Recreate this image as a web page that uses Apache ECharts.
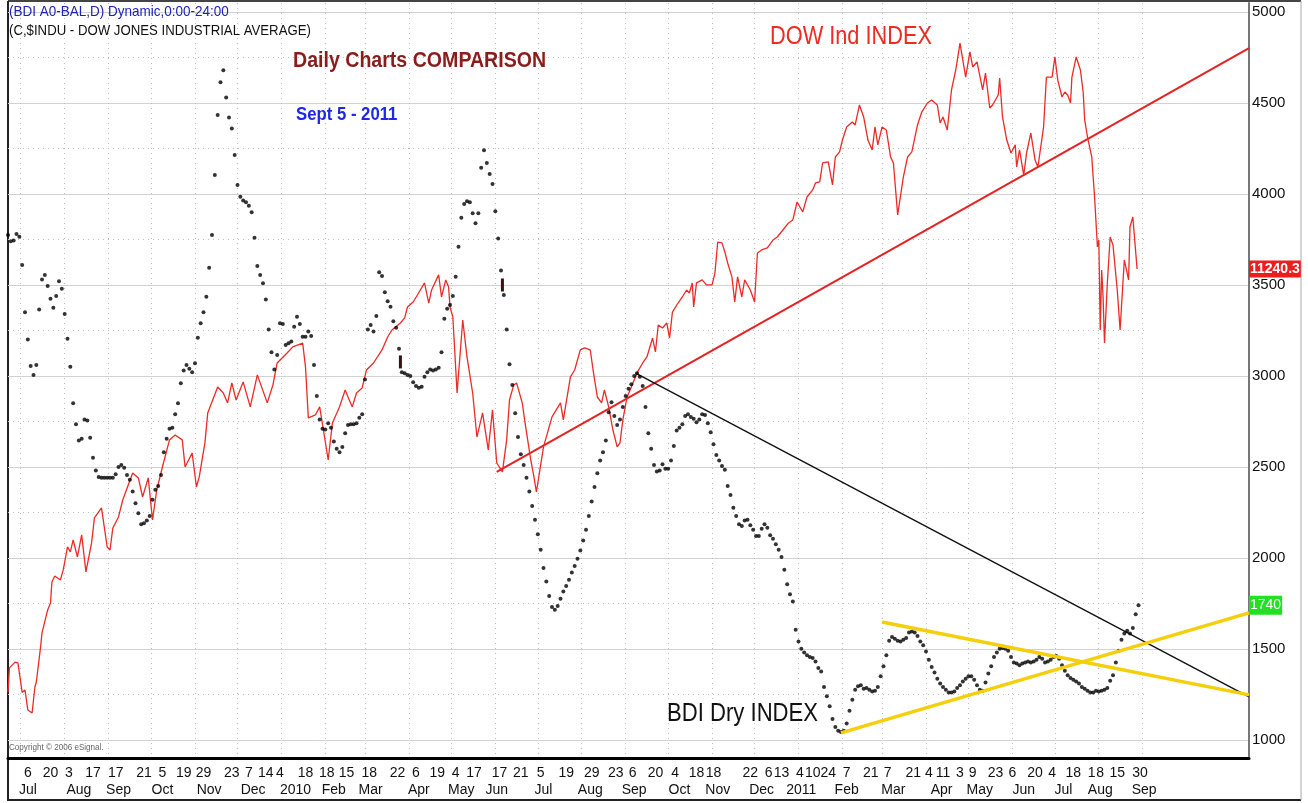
<!DOCTYPE html>
<html>
<head>
<meta charset="utf-8">
<title>BDI vs DOW - Daily Charts Comparison</title>
<script src="https://cdn.jsdelivr.net/npm/echarts@6/dist/echarts.min.js"></script>
<style>
html, body { margin: 0; padding: 0; background: #fff; }
#chart { width: 1308px; height: 803px; }
</style>
</head>
<body>
<div id="chart"></div>
<script>
var font = '"Liberation Sans", Arial, sans-serif';

// x range of the plot, and where the grid dots stop
var xMin = '2009-06-22', xMax = '2011-11-15', dotsEnd = '2011-09-02';

// bottom axis, first row (day numbers) and second row (months)
var dayTickDates = ['2009-07-06', '2009-07-22', '2009-08-04', '2009-08-21', '2009-09-06', '2009-09-26', '2009-10-09',
    '2009-10-24', '2009-11-07', '2009-11-27', '2009-12-09', '2009-12-21', '2009-12-31', '2010-01-18', '2010-02-02',
    '2010-02-16', '2010-03-04', '2010-03-24', '2010-04-06', '2010-04-21', '2010-05-04', '2010-05-17', '2010-06-04',
    '2010-06-19', '2010-07-03', '2010-07-21', '2010-08-08', '2010-08-25', '2010-09-06', '2010-09-22', '2010-10-06',
    '2010-10-21', '2010-11-02', '2010-11-28', '2010-12-11', '2010-12-20', '2011-01-02', '2011-01-11', '2011-01-22',
    '2011-02-04', '2011-02-21', '2011-03-05', '2011-03-23', '2011-04-03', '2011-04-13', '2011-04-25', '2011-05-04',
    '2011-05-20', '2011-06-01', '2011-06-17', '2011-06-29', '2011-07-14', '2011-07-27', '2011-08-02', '2011-08-14',
    '2011-08-30'];
var dayTickText = ['6', '20', '3', '17', '17', '21', '5', '19', '29', '23', '7', '14', '4', '18', '18', '15', '18', '22',
    '6', '19', '4', '17', '17', '21', '5', '19', '29', '23', '6', '20', '4', '18', '18', '22', '6', '13', '4', '10', '24',
    '7', '21', '7', '21', '4', '11', '3', '9', '23', '6', '20', '4', '18', '1', '8', '15', '30'];
var monthTickDates = ['2009-07-06', '2009-08-11', '2009-09-08', '2009-10-09', '2009-11-11', '2009-12-12', '2010-01-11',
    '2010-02-07', '2010-03-05', '2010-04-08', '2010-05-08', '2010-06-02', '2010-07-05', '2010-08-07', '2010-09-07',
    '2010-10-09', '2010-11-05', '2010-12-06', '2011-01-03', '2011-02-04', '2011-03-09', '2011-04-12', '2011-05-09',
    '2011-06-09', '2011-07-07', '2011-08-02', '2011-09-02'];
var monthTickText = ['Jul', 'Aug', 'Sep', 'Oct', 'Nov', 'Dec', '2010', 'Feb', 'Mar', 'Apr', 'May', 'Jun', 'Jul', 'Aug',
    'Sep', 'Oct', 'Nov', 'Dec', '2011', 'Feb', 'Mar', 'Apr', 'May', 'Jun', 'Jul', 'Aug', 'Sep'];
var monthStarts = ['2009-07-01', '2009-08-01', '2009-09-01', '2009-10-01', '2009-11-01', '2009-12-01', '2010-01-01',
    '2010-02-01', '2010-03-01', '2010-04-01', '2010-05-01', '2010-06-01', '2010-07-01', '2010-08-01', '2010-09-01',
    '2010-10-01', '2010-11-01', '2010-12-01', '2011-01-01', '2011-02-01', '2011-03-01', '2011-04-01', '2011-05-01',
    '2011-06-01', '2011-07-01', '2011-08-01', '2011-09-01'];

// right axis (BDI scale)
var bdiLevels = [1000, 1500, 2000, 2500, 3000, 3500, 4000, 4500, 5000];
var bdiHalfLevels = [1250, 1750, 2250, 2750, 3250, 3750, 4250, 4750];

// DOW Jones Industrial Average
var dowDates = ['2009-06-22', '2009-06-23', '2009-06-27', '2009-06-29', '2009-07-02', '2009-07-04', '2009-07-06',
    '2009-07-09', '2009-07-11', '2009-07-12', '2009-07-15', '2009-07-16', '2009-07-20', '2009-07-22', '2009-07-23',
    '2009-07-25', '2009-07-29', '2009-07-31', '2009-08-03', '2009-08-05', '2009-08-07', '2009-08-10', '2009-08-13',
    '2009-08-16', '2009-08-20', '2009-08-22', '2009-08-27', '2009-08-31', '2009-09-02', '2009-09-04', '2009-09-08',
    '2009-09-11', '2009-09-18', '2009-09-22', '2009-09-25', '2009-09-29', '2009-10-02', '2009-10-05', '2009-10-09',
    '2009-10-14', '2009-10-18', '2009-10-23', '2009-10-25', '2009-10-30', '2009-11-02', '2009-11-04', '2009-11-08',
    '2009-11-10', '2009-11-17', '2009-11-21', '2009-11-24', '2009-11-27', '2009-11-30', '2009-12-05', '2009-12-10',
    '2009-12-15', '2009-12-22', '2009-12-26', '2009-12-29', '2010-01-05', '2010-01-09', '2010-01-16', '2010-01-18',
    '2010-01-20', '2010-01-25', '2010-01-28', '2010-01-31', '2010-02-03', '2010-02-06', '2010-02-11', '2010-02-15',
    '2010-02-17', '2010-02-20', '2010-02-23', '2010-02-27', '2010-03-02', '2010-03-07', '2010-03-13', '2010-03-17',
    '2010-03-20', '2010-03-26', '2010-03-29', '2010-03-31', '2010-04-04', '2010-04-07', '2010-04-12', '2010-04-15',
    '2010-04-17', '2010-04-22', '2010-04-24', '2010-04-27', '2010-04-29', '2010-04-30', '2010-05-02', '2010-05-05',
    '2010-05-09', '2010-05-12', '2010-05-16', '2010-05-19', '2010-05-23', '2010-05-27', '2010-05-30', '2010-06-02',
    '2010-06-06', '2010-06-09', '2010-06-11', '2010-06-14', '2010-06-16', '2010-06-20', '2010-06-22', '2010-06-26',
    '2010-06-28', '2010-06-30', '2010-07-05', '2010-07-11', '2010-07-17', '2010-07-19', '2010-07-24', '2010-07-27',
    '2010-07-31', '2010-08-03', '2010-08-07', '2010-08-09', '2010-08-12', '2010-08-15', '2010-08-17', '2010-08-20',
    '2010-08-23', '2010-08-26', '2010-08-28', '2010-08-30', '2010-09-02', '2010-09-05', '2010-09-09', '2010-09-13',
    '2010-09-16', '2010-09-20', '2010-09-22', '2010-09-24', '2010-09-27', '2010-09-30', '2010-10-02', '2010-10-04',
    '2010-10-08', '2010-10-11', '2010-10-14', '2010-10-16', '2010-10-18', '2010-10-19', '2010-10-21', '2010-10-25',
    '2010-10-28', '2010-11-01', '2010-11-03', '2010-11-05', '2010-11-08', '2010-11-10', '2010-11-12', '2010-11-15',
    '2010-11-17', '2010-11-19', '2010-11-22', '2010-11-24', '2010-11-28', '2010-12-01', '2010-12-03', '2010-12-06',
    '2010-12-10', '2010-12-14', '2010-12-17', '2010-12-21', '2010-12-25', '2010-12-28', '2010-12-31', '2011-01-02',
    '2011-01-04', '2011-01-07', '2011-01-11', '2011-01-13', '2011-01-16', '2011-01-18', '2011-01-22', '2011-01-25',
    '2011-01-27', '2011-01-30', '2011-02-01', '2011-02-04', '2011-02-08', '2011-02-10', '2011-02-13', '2011-02-16',
    '2011-02-19', '2011-02-22', '2011-02-24', '2011-02-26', '2011-03-01', '2011-03-04', '2011-03-07', '2011-03-09',
    '2011-03-12', '2011-03-16', '2011-03-19', '2011-03-22', '2011-03-26', '2011-03-29', '2011-04-02', '2011-04-05',
    '2011-04-09', '2011-04-11', '2011-04-13', '2011-04-16', '2011-04-19', '2011-04-22', '2011-04-25', '2011-04-29',
    '2011-05-02', '2011-05-04', '2011-05-07', '2011-05-11', '2011-05-13', '2011-05-16', '2011-05-18', '2011-05-22',
    '2011-05-23', '2011-05-25', '2011-05-28', '2011-05-31', '2011-06-03', '2011-06-04', '2011-06-06', '2011-06-09',
    '2011-06-11', '2011-06-14', '2011-06-17', '2011-06-19', '2011-06-23', '2011-06-25', '2011-06-29', '2011-07-01',
    '2011-07-03', '2011-07-06', '2011-07-08', '2011-07-10', '2011-07-12', '2011-07-13', '2011-07-16', '2011-07-19',
    '2011-07-21', '2011-07-22', '2011-07-24', '2011-07-27', '2011-07-28', '2011-07-29', '2011-07-31', '2011-08-01',
    '2011-08-02', '2011-08-03', '2011-08-04', '2011-08-05', '2011-08-07', '2011-08-09', '2011-08-11', '2011-08-14',
    '2011-08-16', '2011-08-18', '2011-08-19', '2011-08-22', '2011-08-23', '2011-08-25', '2011-08-28'];
var dowValues = [8290, 8460, 8500, 8495, 8290, 8305, 8167, 8146, 8327, 8362, 8606, 8704, 8864, 8913, 9059,
    9101, 9073, 9143, 9303, 9268, 9352, 9233, 9387, 9129, 9331, 9505, 9575, 9303, 9282, 9435, 9512,
    9630, 9819, 9784, 9651, 9784, 9491, 9700, 9860, 10049, 10083, 10049, 9860, 9958, 9721, 9791, 10028,
    10237, 10418, 10376, 10307, 10446, 10327, 10453, 10279, 10502, 10307, 10432, 10585, 10655, 10697, 10724, 10557,
    10202, 10223, 10279, 10097, 9909, 10167, 10279, 10397, 10348, 10279, 10376, 10411, 10536, 10585, 10676, 10766,
    10815, 10864, 10899, 10975, 11010, 11059, 11143, 11003, 11094, 11199, 11045, 11164, 11115, 10975, 10906, 10376,
    10885, 10627, 10376, 10069, 10237, 9979, 10258, 9888, 9826, 10049, 10327, 10432, 10446, 10307, 10167, 9909,
    9805, 9686, 10000, 10209, 10307, 10188, 10488, 10536, 10676, 10690, 10676, 10536, 10348, 10307, 10397, 10279,
    10118, 10000, 10028, 10188, 10348, 10418, 10516, 10585, 10627, 10759, 10662, 10850, 10829, 10864, 10759, 10940,
    11003, 11045, 11094, 11073, 11143, 10975, 11143, 11164, 11129, 11129, 11212, 11428, 11422, 11359, 11282, 11185,
    11010, 11185, 11045, 11164, 11094, 11010, 11352, 11373, 11387, 11442, 11463, 11512, 11561, 11582, 11707, 11672,
    11638, 11742, 11791, 11840, 11847, 11979, 11986, 11826, 12021, 12056, 12139, 12230, 12265, 12244, 12383, 12300,
    12139, 12070, 12230, 12105, 12230, 12209, 12021, 11979, 11617, 11881, 12021, 12056, 12244, 12334, 12397, 12418,
    12383, 12258, 12300, 12209, 12488, 12627, 12815, 12578, 12753, 12648, 12683, 12488, 12606, 12362, 12383, 12453,
    12571, 12300, 12139, 12049, 12105, 11951, 12070, 11895, 12049, 12188, 11999, 11951, 12230, 12578, 12578, 12718,
    12557, 12439, 12474, 12453, 12397, 12578, 12718, 12627, 12467, 12279, 12160, 12021, 11881, 11742, 11394, 11442,
    10815, 11233, 11045, 10724, 11143, 11463, 11408, 11094, 10815, 11143, 11303, 11164, 11533, 11603, 11240.3];

// Baltic Dry Index, one reading every 2 days from bdiStart
var bdiStart = '2009-06-22', bdiStepDays = 2;
var bdiValues = [
    3775, 3740, 3745, 3780, 3765, 3610, 3350, 3200, 3055, 3005,
    3060, 3365, 3530, 3555, 3495, 3425, 3375, 3440, 3520, 3480,
    3340, 3205, 3050, 2850, 2735, 2645, 2655, 2760, 2755, 2660,
    2550, 2480, 2445, 2440, 2440, 2440, 2440, 2440, 2460, 2500,
    2510, 2495, 2455, 2430, 2365, 2300, 2245, 2185, 2190, 2205,
    2230, 2320, 2375, 2395, 2455, 2580, 2655, 2710, 2715, 2790,
    2850, 2960, 3030, 3060, 3040, 3020, 3070, 3210, 3290, 3350,
    3435, 3595, 3775, 4105, 4435, 4615, 4680, 4530, 4420, 4360,
    4215, 4050, 3985, 3965, 3955, 3935, 3900, 3760, 3605, 3555,
    3510, 3420, 3255, 3130, 3035, 3115, 3290, 3285, 3170, 3180,
    3190, 3270, 3325, 3285, 3215, 3215, 3245, 3220, 3060, 2890,
    2760, 2710, 2705, 2740, 2715, 2640, 2600, 2580, 2610, 2685,
    2730, 2735, 2735, 2740, 2770, 2790, 2980, 3255, 3280, 3245,
    3330, 3570, 3550, 3460, 3410, 3380, 3300, 3265, 3150, 3020,
    3015, 3005, 3000, 2965, 2945, 2935, 2940, 2995, 3020, 3035,
    3030, 3035, 3045, 3130, 3315, 3370, 3390, 3440, 3545, 3710,
    3870, 3945, 3960, 3955, 3895, 3840, 3895, 4145, 4240, 4170,
    4110, 4055, 3905, 3755, 3580, 3445, 3255, 3065, 2950, 2795,
    2665, 2570, 2510, 2440, 2365, 2285, 2210, 2130, 2045, 1945,
    1870, 1790, 1730, 1715, 1735, 1775, 1815, 1845, 1880, 1920,
    1955, 1995, 2040, 2095, 2155, 2230, 2310, 2390, 2465, 2535,
    2580, 2645, 2800, 2855, 2780, 2730, 2760, 2830, 2890, 2930,
    2955, 3000, 3015, 2995, 2945, 2830, 2685, 2600, 2510, 2475,
    2480, 2515, 2490, 2490, 2535, 2615, 2700, 2715, 2735, 2780,
    2790, 2775, 2765, 2745, 2760, 2790, 2785, 2740, 2690, 2625,
    2565, 2535, 2505, 2485, 2395, 2345, 2275, 2230, 2185, 2175,
    2205, 2210, 2180, 2155, 2120, 2120, 2160, 2185, 2165, 2125,
    2105, 2075, 2045, 2005, 1935, 1855, 1800, 1760, 1605, 1540,
    1500, 1480, 1465, 1455, 1450, 1430, 1395, 1375, 1290, 1240,
    1185, 1115, 1070, 1050, 1043, 1050, 1090, 1160, 1220, 1275,
    1295, 1300, 1280, 1285, 1275, 1265, 1270, 1290, 1350, 1405,
    1465, 1545, 1565, 1555, 1545, 1540, 1550, 1560, 1590, 1595,
    1590, 1570, 1540, 1520, 1485, 1440, 1400, 1370, 1335, 1310,
    1290, 1275, 1260, 1260, 1265, 1285, 1300, 1320, 1335, 1350,
    1350, 1330, 1300, 1275, 1270, 1315, 1365, 1405, 1455, 1480,
    1500, 1505, 1500, 1490, 1455, 1425, 1420, 1410, 1420, 1425,
    1430, 1425, 1430, 1440, 1455, 1445, 1425, 1430, 1440, 1455,
    1460, 1445, 1410, 1380, 1355, 1340, 1330, 1320, 1310, 1290,
    1280, 1270, 1260, 1260, 1270, 1265, 1270, 1275, 1285, 1325,
    1355, 1425, 1490, 1550, 1585, 1600, 1585, 1615, 1690, 1740];
var bdiMarks = [['2010-03-26', 3077], ['2010-06-06', 3500]];

// hand drawn trend lines
var dowTrend = [['2010-06-02', 9826], ['2011-11-15', 12780]];
var bdiTrend = [['2010-09-08', 3016], ['2011-11-15', 1236]];
var yellowUpper = [['2011-03-01', 1648], ['2011-11-15', 1247]];
var yellowLower = [['2011-01-31', 1038], ['2011-11-15', 1698]];

var dowLast = 11240.3, bdiLast = 1740;

// dates become millisecond numbers on a plain value axis
function toTime(s) {
    var p = s.split('-');
    return new Date(+p[0], +p[1] - 1, +p[2]).getTime();
}
function lookup(dates, texts) {
    var m = {};
    dates.forEach(function (d, i) { m[toTime(d)] = texts[i]; });
    return function (v) { return m[v] !== undefined ? m[v] : ''; };
}

var dowData = dowDates.map(function (d, i) { return [toTime(d), dowValues[i]]; });
var bdiData = bdiValues.map(function (v, i) {
    var p = bdiStart.split('-');
    return [new Date(+p[0], +p[1] - 1, +p[2] + i * bdiStepDays).getTime(), v];
});
function pairs(list) { return list.map(function (c) { return [toTime(c[0]), c[1]]; }); }

var chart = echarts.init(document.getElementById('chart'));

var labelFont = { color: '#111', fontSize: 14, fontFamily: font };
var hidden = { width: 0, color: 'rgba(0,0,0,0)' };

function text(str, x, y, size, color, sx, weight) {
    return {
        type: 'text', x: x, y: y, scaleX: sx, z: 20,
        style: { text: str, fill: color, fontSize: size, fontFamily: font, fontWeight: weight || 'normal', verticalAlign: 'middle' }
    };
}

chart.setOption({
    animation: false,
    backgroundColor: '#fff',
    textStyle: { fontFamily: font },
    grid: [
        { left: 8, top: 3, width: 1241, height: 755, show: false, outerBoundsMode: 'none' },
        { left: 8, top: 3, width: 1136, height: 755, show: false, outerBoundsMode: 'none' }
    ],
    xAxis: [
        {
            type: 'value', gridIndex: 0, min: toTime(xMin), max: toTime(xMax), position: 'bottom',
            axisLine: { show: true, onZero: false, lineStyle: { color: '#000', width: 3 } },
            axisTick: { show: false },
            splitLine: { show: false },
            axisLabel: Object.assign({ customValues: dayTickDates.map(toTime), formatter: lookup(dayTickDates, dayTickText), margin: 8, hideOverlap: false }, labelFont)
        },
        {
            type: 'value', gridIndex: 0, min: toTime(xMin), max: toTime(xMax), position: 'bottom', offset: 17,
            axisLine: { show: false }, axisTick: { show: false }, splitLine: { show: false },
            axisLabel: Object.assign({ customValues: monthTickDates.map(toTime), formatter: lookup(monthTickDates, monthTickText), margin: 8, hideOverlap: false }, labelFont)
        },
        {
            type: 'value', gridIndex: 1, min: toTime(xMin), max: toTime(dotsEnd),
            axisLine: { show: false }, axisLabel: { show: false },
            axisTick: { show: false, customValues: monthStarts.map(toTime) },
            splitLine: { show: true, lineStyle: { color: '#bdbdbd', width: 1, type: [1, 4] } }
        }
    ],
    yAxis: [
        {
            type: 'value', gridIndex: 0, min: 900, max: 5050, position: 'right',
            axisLine: { show: true, lineStyle: { color: '#777', width: 2 } },
            axisTick: { show: false, customValues: bdiLevels },
            axisLabel: Object.assign({ customValues: bdiLevels, margin: 3, formatter: function (v) { return String(v); } }, labelFont, { fontSize: 15 }),
            splitLine: { show: true, lineStyle: { color: '#d2d2d2', width: 1 } }
        },
        { type: 'value', gridIndex: 0, min: 7832, max: 13094, show: false },
        {
            type: 'value', gridIndex: 1, min: 900, max: 5050,
            axisLine: { show: false }, axisLabel: { show: false },
            axisTick: { show: false, customValues: bdiHalfLevels },
            splitLine: { show: true, lineStyle: { color: '#bdbdbd', width: 1, type: [1, 4] } }
        }
    ],
    series: [
        {
            name: 'DOW', type: 'line', xAxisIndex: 0, yAxisIndex: 1, data: dowData,
            showSymbol: false, lineStyle: { color: '#ec2a26', width: 1.3 }, z: 3,
            markLine: {
                silent: true, symbol: ['none', 'none'], lineStyle: hidden,
                label: {
                    show: true, position: 'end', distance: 0, formatter: String(dowLast),
                    backgroundColor: '#ee1d1d', color: '#fff', padding: [2, 1, 1, 1],
                    fontSize: 14, fontWeight: 'bold', fontFamily: font
                },
                data: [{ yAxis: dowLast }]
            }
        },
        {
            name: 'DOW trend', type: 'line', xAxisIndex: 0, yAxisIndex: 1, data: pairs(dowTrend),
            showSymbol: false, lineStyle: { color: '#e42222', width: 2 }, z: 2
        },
        {
            name: 'BDI trend', type: 'line', xAxisIndex: 0, yAxisIndex: 0, data: pairs(bdiTrend),
            showSymbol: false, lineStyle: { color: '#111', width: 1.4 }, z: 2
        },
        {
            name: 'Upper', type: 'line', xAxisIndex: 0, yAxisIndex: 0, data: pairs(yellowUpper),
            showSymbol: false, lineStyle: { color: '#f4cf0a', width: 3.5 }, z: 5
        },
        {
            name: 'Lower', type: 'line', xAxisIndex: 0, yAxisIndex: 0, data: pairs(yellowLower),
            showSymbol: false, lineStyle: { color: '#f4cf0a', width: 3.5 }, z: 5
        },
        {
            name: 'BDI', type: 'scatter', xAxisIndex: 0, yAxisIndex: 0, data: bdiData,
            symbol: 'circle', symbolSize: 4, itemStyle: { color: '#000' }, z: 4,
            markPoint: {
                symbol: 'rect', symbolSize: [3, 13], itemStyle: { color: '#3a1010' },
                label: { show: false },
                data: pairs(bdiMarks).map(function (c) { return { coord: c }; })
            },
            markLine: {
                silent: true, symbol: ['none', 'none'], lineStyle: hidden,
                label: {
                    show: true, position: 'end', distance: 0, formatter: String(bdiLast),
                    backgroundColor: '#22e022', color: '#fff', padding: [3, 1, 2, 1],
                    fontSize: 14, fontFamily: font
                },
                data: [{ yAxis: bdiLast }]
            }
        }
    ],
    graphic: [
        { type: 'line', shape: { x1: 8, y1: 1, x2: 1301, y2: 1 }, style: { stroke: '#444', lineWidth: 2 } },
        { type: 'line', shape: { x1: 8, y1: 1, x2: 8, y2: 801 }, style: { stroke: '#222', lineWidth: 2 } },
        { type: 'line', shape: { x1: 8, y1: 800, x2: 1301, y2: 800 }, style: { stroke: '#222', lineWidth: 2 } },
        { type: 'line', shape: { x1: 1301, y1: 1, x2: 1301, y2: 800 }, style: { stroke: '#aaa', lineWidth: 1 } },
        text('(BDI A0-BAL,D) Dynamic,0:00-24:00', 9, 12, 15, '#1f22b8', 0.9),
        text('(C,$INDU - DOW JONES INDUSTRIAL AVERAGE)', 9, 31, 15, '#111', 0.88),
        text('Daily Charts COMPARISON', 293, 61, 22, '#8a1c1c', 0.89, 'bold'),
        text('Sept 5 - 2011', 296, 115, 18, '#1e28e8', 0.93, 'bold'),
        text('DOW Ind INDEX', 770, 37, 25, '#ee2a22', 0.87),
        text('BDI Dry INDEX', 667, 714, 26, '#111', 0.85),
        text('Copyright \u00a9 2006 eSignal.', 9, 748, 9, '#666', 0.9)
    ]
});
</script>
</body>
</html>
